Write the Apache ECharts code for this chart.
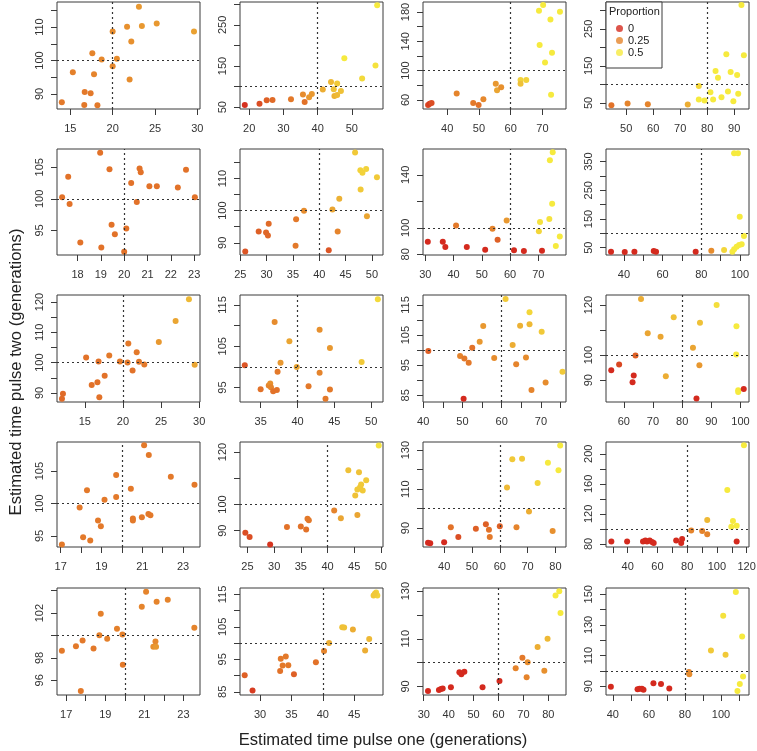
<!DOCTYPE html>
<html><head><meta charset="utf-8">
<script src="https://cdn.jsdelivr.net/npm/echarts@6/dist/echarts.min.js"></script>
<style>html,body{margin:0;padding:0;background:#fff}#c{width:757px;height:751px}</style>
</head><body><div id="c"></div>
<script>
// ---- data: [pulse one, pulse two, proportion] per panel ----
const r1c1 = [[14.0,87.5,.22],[16.65,86.7,.22],[16.7,90.6,.22],[17.4,90.2,.22],[18.2,86.6,.22],[15.3,96.5,.24],[17.6,102.2,.25],[17.8,95.9,.25],[18.7,100.3,.26],[20.0,108.7,.27],[20.0,98.3,.26],[20.5,100.5,.27],[21.7,110.1,.28],[22.2,105.7,.28],[22.0,94.3,.27],[23.1,116.1,.3],[23.45,110.3,.3],[25.2,111.1,.3],[29.6,108.7,.32]];
const r1c2 = [[18.7,55.3,0.02],[23.0,58.5,0.1],[25.1,66.7,0.15],[26.8,67.5,0.18],[32.2,69.1,0.22],[35.7,80.5,0.27],[36.2,62.6,0.2],[37.5,74,0.3],[38.3,82,0.3],[41.5,92.7,0.35],[43.9,111.4,0.38],[44.7,93.5,0.4],[45.7,107.3,0.42],[44.9,77.2,0.36],[45.7,79.7,0.38],[46.8,89.4,0.4],[47.8,169.1,0.5],[53.0,119.5,0.46],[57.4,297.6,0.5],[56.9,151,0.48]];
const r1c3 = [[34.0,53.2,0.08],[34.5,55.0,0.05],[35.1,56,0.1],[43.0,68.8,0.25],[48.2,56,0.22],[49.9,53.2,0.2],[51.4,61,0.26],[55.3,82.1,0.3],[55.7,73.4,0.33],[57.0,77.5,0.28],[63.1,87.2,0.44],[63.1,82.1,0.4],[64.9,87.2,0.44],[68.9,181.7,0.5],[70.2,189.4,0.5],[75.5,180.3,0.5],[72.5,169.7,0.5],[69.1,134.9,0.5],[73.0,124.3,0.5],[70.8,111,0.5],[72.7,67,0.5]];
const r1c4 = [[44.5,43.6,0.2],[50.5,48.2,0.25],[58.0,46.4,0.25],[72.8,45.5,0.35],[76.9,95.5,0.45],[76.9,59.1,0.5],[79.0,56.4,0.5],[81.2,79.1,0.5],[82.2,59.1,0.5],[83.1,136.4,0.5],[84.0,118.2,0.5],[85.3,65.5,0.5],[87.1,181.8,0.5],[87.7,80.9,0.5],[88.7,133.6,0.5],[89.7,54.5,0.5],[91.1,125.5,0.5],[91.5,74.5,0.5],[92.7,314.5,0.5],[93.6,179.1,0.5]];
const r2c1 = [[17.34,100.26,.2],[17.6,103.5,.2],[17.66,99.2,.2],[18.12,93.07,.2],[18.97,107.3,.2],[19.02,92.3,.2],[19.37,104.7,.2],[19.46,95.9,.2],[19.6,94.4,.2],[20.0,91.6,.2],[20.09,95.3,.2],[20.3,102.5,.2],[20.54,99.5,.2],[20.66,104.8,.2],[20.71,104.2,.2],[21.08,102,.2],[21.4,102,.2],[22.3,101.8,.2],[22.65,104.6,.2],[23.03,100.26,.2]];
const r2c2 = [[25.95,87.3,0.12],[28.5,93.5,0.15],[29.9,93.2,0.17],[30.25,92.3,0.17],[30.4,95.9,0.18],[35.6,97.3,0.22],[35.5,89.1,0.22],[37.1,100,0.27],[41.8,87.7,0.12],[42.5,100.4,0.33],[43.5,93.5,0.25],[43.8,103.7,0.36],[46.8,118.1,0.42],[47.8,112.6,0.44],[48.2,111.8,0.44],[48.9,113,0.44],[47.85,106.6,0.42],[49.05,98.3,0.33],[50.95,110.4,0.42]];
const r2c3 = [[30.9,89.5,0],[36.2,89.5,0],[37.1,85.5,0],[40.9,101.75,0.22],[44.7,85.5,0],[51.2,83.5,0],[53.8,99.25,0.25],[55.6,91,0.15],[58.8,105.5,0.3],[61.4,83,0],[64.9,82.5,0],[71.3,82.75,0],[70.2,97.5,0.45],[70.6,104.5,0.48],[73.9,106.75,0.48],[74.1,151,0.5],[75.1,157,0.5],[74.9,118.25,0.5],[76.2,86.25,0.5],[77.6,93.5,0.5]];
const r2c4 = [[33.3,36,0],[40.4,34.9,0],[45.4,36,0],[55.4,38.4,0],[56.6,36,0],[77.1,36,0],[85.2,39.5,0.27],[91.8,41.9,0.45],[96.1,36,0.5],[97,44.2,0.5],[98.3,53.5,0.5],[99.6,59.3,0.5],[100.9,61.6,0.5],[102.1,90.7,0.5],[99.9,158,0.5],[97,379,0.5],[99,379,0.5]];
const r3c1 = [[12.0,88.1,0.18],[12.13,89.7,0.18],[15.17,101.65,0.2],[15.9,92.6,0.2],[16.65,93.5,0.2],[16.8,100.4,0.2],[16.9,88.6,0.2],[17.6,95.7,0.2],[18.2,102.3,0.22],[19.6,100.4,0.22],[20.6,100,0.22],[20.7,106.3,0.22],[21.26,97.4,0.2],[21.8,103.4,0.22],[22.1,100.3,0.22],[22.8,99.4,0.22],[24.7,106.8,0.3],[26.9,113.7,0.33],[28.65,120.9,0.38],[29.4,99.3,0.33]];
const r3c2 = [[32.85,100.4,0.12],[35.0,94.6,0.2],[36.1,95.5,0.25],[36.3,96,0.28],[36.4,95.1,0.25],[36.7,94.1,0.2],[37.2,94.4,0.2],[36.9,110.85,0.27],[37.3,98.8,0.22],[37.7,101,0.3],[38.9,106.2,0.33],[39.9,100,0.33],[41.5,95.3,0.22],[43,109,0.28],[43,98.6,0.25],[43.8,92.3,0.22],[44.4,104.6,0.3],[44.4,94.5,0.22],[48.7,101.2,0.42],[50.9,116.4,0.46]];
const r3c3 = [[41.3,99.7,0.15],[49.4,98.1,0.25],[50.3,83.9,0],[50.5,97.2,0.22],[51.6,95.8,0.22],[52.5,100.8,0.2],[54.4,102.8,0.3],[55.3,108,0.3],[58.1,97.4,0.27],[61.0,117,0.42],[62.8,101.7,0.35],[63.7,95.3,0.25],[64.7,108.1,0.36],[66.2,97.6,0.27],[67.1,112.6,0.45],[67.1,108.6,0.38],[67.6,86.8,0.25],[70.2,106.1,0.42],[71.2,89.3,0.27],[75.5,92.8,0.42]];
const r3c4 = [[55.7,94,0],[58.4,96.3,0.08],[64,99.9,0.15],[63,89.2,0],[63.4,91.9,0],[65.9,122.4,0.35],[68.2,108.7,0.33],[72.6,107.3,0.33],[74.4,91.6,0.35],[77.1,115.1,0.4],[83.7,102.9,0.33],[85.9,96,0.3],[84.9,82.7,0],[86.1,112.9,0.4],[91.8,120,0.47],[98.6,111.5,0.5],[98.5,100.3,0.5],[99.2,86,0.5],[99.2,85.3,0.5],[101.1,86.5,0]];
const r4c1 = [[17.06,93.7,.22],[17.93,99.4,.22],[18.1,94.8,.22],[18.29,102.05,.22],[18.45,94.3,.22],[18.83,97.4,.22],[18.97,96.5,.22],[19.15,100.6,.22],[19.72,104.4,.22],[19.72,101,.22],[20.44,102.3,.22],[20.54,97.7,.22],[20.54,97.4,.22],[20.98,97.9,.22],[21.09,109,.22],[21.32,107.5,.22],[21.3,98.4,.22],[21.4,98.2,.22],[22.4,104.15,.22],[23.56,102.9,.22]];
const r4c2 = [[24.6,89.2,0.1],[25.4,87.6,0.1],[29.25,84.8,0.03],[32.4,91.4,0.2],[35,91.6,0.2],[36,90.5,0.2],[36.25,94.6,0.22],[36.5,94,0.22],[41.25,97.7,0.25],[42.5,94.8,0.33],[43.9,113,0.4],[45.2,103.4,0.4],[45.6,96,0.33],[45.9,112.3,0.4],[45.6,105.7,0.42],[46.1,106.6,0.42],[46.3,107.6,0.42],[46.6,105.3,0.42],[47.25,109.2,0.42],[49.6,122.5,0.48]];
const r4c3 = [[34.2,82.5,0],[35,82.2,0],[40,82.7,0],[42.4,90.5,0.2],[45.1,85.4,0.1],[51.4,89.7,0.15],[55,92,0.15],[56.1,89.2,0.2],[56.4,85.4,0.22],[60,91,0.15],[62.6,110.8,0.38],[64.5,125.3,0.42],[66,90.5,0.25],[68,125.6,0.42],[70.5,98.5,0.35],[73.6,113.2,0.45],[77.3,123.6,0.5],[79,88.5,0.28],[81.1,119.7,0.5],[81.7,132.4,0.5]];
const r4c4 = [[29,83.4,0],[39.6,83.4,0],[50.3,83.4,0],[51.9,84.7,0],[53,83.4,0],[54.8,84.7,0],[56.4,82.5,0],[57.5,81.2,0],[72.6,84.7,0],[76,81.2,0],[76.6,86.5,0],[82.7,97.8,0.25],[90.1,97.4,0.25],[93.5,93,0.25],[93.5,111.8,0.38],[107,152,0.5],[109.7,103.1,0.5],[110.8,110.5,0.5],[113.3,104.4,0.5],[113.3,83.4,0],[118.2,211.4,0.5]];
const r5c1 = [[16.78,98.63,.22],[17.5,99.04,.22],[17.84,99.55,.22],[17.75,95.04,.22],[18.4,98.84,.22],[18.7,100.03,.24],[18.77,101.94,.24],[19.1,99.7,.24],[19.6,100.6,.24],[19.88,100.09,.24],[19.9,97.4,.22],[20.87,102.57,.25],[21.09,103.91,.25],[21.46,98.99,.28],[21.57,99.46,.26],[21.6,98.99,.3],[21.63,103.01,.25],[22.2,103.19,.25],[23.56,100.69,.25]];
const r5c2 = [[27.55,90.1,0.15],[28.8,85.4,0.05],[33.2,91.4,0.2],[33.3,95.2,0.22],[33.6,93.1,0.22],[34.1,95.9,0.22],[34.5,93.2,0.22],[35.4,90.4,0.15],[38.9,94.1,0.2],[40.2,97.6,0.25],[41,100,0.35],[43.1,104.9,0.4],[43.4,104.8,0.4],[44.8,104.2,0.35],[46.75,97.7,0.35],[47.4,101.3,0.38],[48.1,114.7,0.42],[48.5,115.6,0.44],[48.7,114.7,0.44],[48.3,115.2,0.42]];
const r5c3 = [[31.7,88.1,0],[36.1,88.5,0],[36.9,88.9,0],[37.6,89.1,0],[40.9,89.6,0],[44.3,95.9,0],[45.1,95.1,0],[46.3,96.2,0],[53.6,89.6,0],[60.4,92.3,0],[66.9,97.6,0.25],[69.6,102,0.22],[71.3,93.8,0.25],[71.7,100.1,0.27],[75.7,106.5,0.35],[78.4,96.6,0.28],[79.7,110,0.38],[82.9,128.2,0.5],[84.4,129.9,0.5],[84.9,120.8,0.5]];
const r5c4 = [[38.9,89.7,0],[53.7,88,0],[54.8,88.4,0],[56.1,88.4,0],[57,87.8,0],[62.5,91.9,0],[66.7,91.5,0],[71.3,88.6,0],[82.2,99.3,0.25],[82.4,97.8,0.27],[94.4,113.3,0.42],[101.2,136,0.48],[102.5,110.5,0.42],[108.2,151.5,0.5],[111.7,122.5,0.5],[112.2,96.3,0.5],[110.4,91.5,0.5],[109.1,86.9,0.5]];

const panels = [r1c1,r1c2,r1c3,r1c4, r2c1,r2c2,r2c3,r2c4, r3c1,r3c2,r3c3,r3c4, r4c1,r4c2,r4c3,r4c4, r5c1,r5c2,r5c3,r5c4];

// reference lines
const refX = [20, 40, 60, 80];
const refY = 100;

// tick positions and tick labels
const xTicks = [
 [15,20,25,30],[20,30,40,50],[40,50,60,70],[50,60,70,80,90],
 [18,19,20,21,22,23],[25,30,35,40,45,50],[30,40,50,60,70],[40,50,60,70,80,90,100],
 [15,20,25,30],[35,40,45,50],[40,45,50,55,60,65,70,75],[60,70,80,90,100],
 [17,18,19,20,21,22,23],[25,30,35,40,45,50],[40,50,60,70,80],[30,40,50,60,70,80,90,100,110,120],
 [17,18,19,20,21,22,23],[30,35,40,45],[30,40,50,60,70,80],[40,50,60,70,80,90,100,110]];
const xLabels = [
 [15,20,25,30],[20,30,40,50],[40,50,60,70],[50,60,70,80,90],
 [18,19,20,21,22,23],[25,30,35,40,45,50],[30,40,50,60,70],[40,60,80,100],
 [15,20,25,30],[35,40,45,50],[40,50,60,70],[60,70,80,90,100],
 [17,19,21,23],[25,30,35,40,45,50],[40,50,60,70,80],[40,60,80,100,120],
 [17,19,21,23],[30,35,40,45],[30,40,50,60,70,80],[40,60,80,100]];
const yTicks = [
 [90,95,100,105,110,115],[50,100,150,200,250,300],[60,80,100,120,140,160,180],[50,100,150,200,250,300],
 [95,100,105],[90,95,100,105,110,115],[80,100,120,140],[50,100,150,200,250,300,350],
 [90,95,100,105,110,115,120],[95,100,105,110,115],[85,90,95,100,105,110,115],[90,100,110,120],
 [95,100,105],[90,100,110,120],[90,100,110,120,130],[80,100,120,140,160,180,200],
 [96,98,100,102,104],[85,90,95,100,105,110,115],[90,100,110,120,130],[90,100,110,120,130,140,150]];
const yLabels = [
 [90,100,110],[50,150,250],[60,100,140,180],[50,150,250],
 [95,100,105],[90,100,110],[80,100,140],[50,150,250,350],
 [90,100,110,120],[95,105,115],[85,95,105,115],[90,100,120],
 [95,100,105],[90,100,120],[90,110,130],[80,120,160,200],
 [96,98,102],[85,95,105,115],[90,110,130],[90,110,130,150]];

const legendNames = ['0', '0.25', '0.5'];
const xTitle = 'Estimated time pulse one (generations)';
const yTitle = 'Estimated time pulse two (generations)';

// ---- layout (axis extents and panel boxes) ----
const xLim = [[13.43,30.31],[17.3,59.1],[32.4,77.4],[42.5,95.5],
 [17.12,23.25],[24.95,52.1],[29.2,79.8],[30.7,104.7],
 [11.35,30.1],[32.2,51.6],[39.95,76.4],[53.9,102.9],
 [16.82,23.83],[23.6,50.4],[32.4,83.8],[25.4,121.6],
 [16.53,23.85],[26.8,49.6],[29.7,87.1],[36.2,115.5]];
const yLim = [[85.5,117.5],[45.5,305.7],[47.7,193.6],[33.6,322.7],
 [91.1,107.9],[86.2,119.2],[79.5,159.5],[24.4,394],
 [87.0,122.3],[91.5,117.4],[82.8,118.3],[81.3,124],
 [93.3,109.5],[83.8,123.8],[80.3,134.2],[76,215.7],
 [94.69,104.24],[84,117],[86.4,131.3],[84.3,154.1]];
const colLeft = [57, 240, 423, 606], colW = 143;
const rowTop = [2, 149, 295, 442, 588], rowH = [107, 106, 107, 105, 107];
const FONT = "'Liberation Sans', Arial, Helvetica, sans-serif";
const AX = '#3a3a3a';
const colorStops = ['#d42a1e', '#e5842c', '#f6ea3e'];

const grid = [], xAxis = [], yAxis = [], series = [];
for (let i = 0; i < 20; i++) {
  const r = Math.floor(i / 4), c = i % 4;
  grid.push({left: colLeft[c], top: rowTop[r], width: colW, height: rowH[r], show: true,
    borderColor: AX, borderWidth: 1, backgroundColor: 'transparent', outerBoundsMode: 'none'});
  xAxis.push({type: 'value', gridIndex: i, min: xLim[i][0], max: xLim[i][1], position: 'bottom',
    axisLine: {show: false, onZero: false}, splitLine: {show: false},
    axisTick: {show: true, length: 6, customValues: xTicks[i], lineStyle: {color: AX, width: 1}},
    axisLabel: {show: true, customValues: xLabels[i], margin: 14, fontSize: 11, color: '#333', fontFamily: FONT, hideOverlap: false}});
  yAxis.push({type: 'value', gridIndex: i, min: yLim[i][0], max: yLim[i][1], position: 'left',
    axisLine: {show: false, onZero: false}, splitLine: {show: false},
    axisTick: {show: true, length: 6, customValues: yTicks[i], lineStyle: {color: AX, width: 1}},
    axisLabel: {show: true, customValues: yLabels[i], rotate: 90, margin: 12, fontSize: 11, color: '#333', fontFamily: FONT, hideOverlap: false}});
  series.push({type: 'scatter', xAxisIndex: i, yAxisIndex: i, data: panels[i], symbol: 'circle', symbolSize: 6,
    itemStyle: {opacity: 1}, emphasis: {disabled: true},
    markLine: {silent: true, symbol: ['none', 'none'], animation: false, label: {show: false},
      lineStyle: {type: [2, 3], color: '#333', width: 1.2}, emphasis: {disabled: true},
      data: [{xAxis: refX[c]}, {yAxis: refY}]}});
}
legendNames.forEach((n, k) => {
  series.push({type: 'scatter', name: n, xAxisIndex: 3, yAxisIndex: 3, data: [], itemStyle: {color: colorStops[k]}});
});

const chart = echarts.init(document.getElementById('c'), null, {renderer: 'canvas'});
chart.setOption({
  animation: false,
  backgroundColor: '#fff',
  grid, xAxis, yAxis, series,
  visualMap: {type: 'continuous', show: false, dimension: 2, min: 0, max: 0.5,
    seriesIndex: Array.from({length: 20}, (_, k) => k), inRange: {color: colorStops}},
  legend: {show: true, orient: 'vertical', left: 616, top: 23, itemGap: 1, itemWidth: 7, itemHeight: 7,
    icon: 'circle', selectedMode: false, padding: 0, z: 10,
    textStyle: {fontSize: 11, color: '#222', fontFamily: FONT}, data: legendNames},
  graphic: [
    {type: 'rect', z: 5, shape: {x: 606, y: 2, width: 56, height: 66}, style: {fill: '#fff', stroke: AX, lineWidth: 1}},
    {type: 'text', z: 6, x: 609, y: 12, style: {text: 'Proportion', fontSize: 11, fill: '#222', fontFamily: FONT, textVerticalAlign: 'middle'}},
    {type: 'text', x: 383, y: 740, style: {text: xTitle, fontSize: 16.6, fill: '#222', fontFamily: FONT, textAlign: 'center', textVerticalAlign: 'middle'}},
    {type: 'text', x: 16, y: 372, rotation: Math.PI / 2, style: {text: yTitle, fontSize: 16.6, fill: '#222', fontFamily: FONT, textAlign: 'center', textVerticalAlign: 'middle'}}
  ]
});
</script>
</body></html>
